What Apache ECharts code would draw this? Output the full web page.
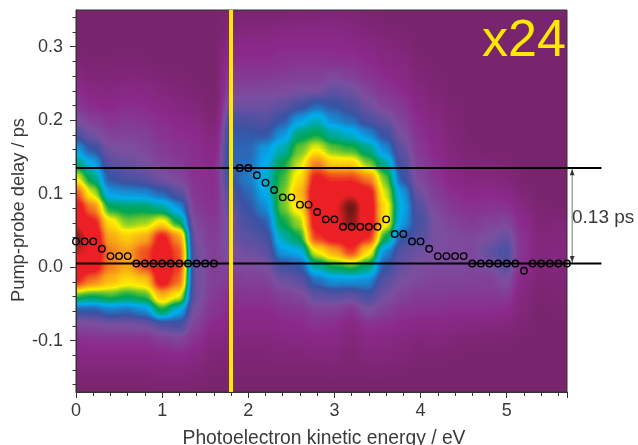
<!DOCTYPE html>
<html>
<head>
<meta charset="utf-8">
<style>
html,body{margin:0;padding:0;background:#fff;}
#chart{width:638px;height:445px;}
/* bottom layer only: the heatmap drawn as a grey value field, smoothed, then coloured by the level table */
#chart canvas:first-of-type{background:#000;filter:blur(4px) url(#levelMap);clip-path:inset(10px 71px 53px 76px);}
</style>
<script src="https://cdn.jsdelivr.net/npm/echarts@6/dist/echarts.min.js"></script>
</head>
<body>
<svg width="0" height="0" style="position:absolute"><defs><filter id="levelMap" color-interpolation-filters="sRGB" x="0" y="0" width="100%" height="100%"><feComponentTransfer id="levelTable"></feComponentTransfer></filter></defs></svg>
<div id="chart"></div>
<script>
// cell centres
const energyCells = [-0.2,0,0.2,0.4,0.6,0.8,1.0,1.2,1.4,1.6,1.8,2.0,2.2,2.4,2.6,2.8,3.0,3.2,3.4,3.6,3.8,4.0,4.2,4.4,4.6,4.8,5.0,5.2,5.4,5.6,5.8];
const delayCells = [0.36,0.34,0.32,0.30,0.28,0.26,0.24,0.22,0.20,0.18,0.16,0.14,0.12,0.10,0.08,0.06,0.04,0.02,0,-0.02,-0.04,-0.06,-0.08,-0.10,-0.12,-0.14,-0.16,-0.18];
// intensity per energy column, listed from top delay to bottom delay
const intensity = [
[0,0,0,0,2,6,10,14,20,27,38,48,60,76,85,90,96,92,88,80,52,30,18,11,8,4,1,0],
[0,0,0,0,2,6,10,14,20,27,38,48,60,76,85,90,96,92,88,80,52,30,18,11,8,4,1,0],
[0,0,0,0,1,3,7,10,16,21,30,40,48,58,72,82,88,90,84,72,50,30,19,12,8,4,1,0],
[0,0,0,0,1,3,6,9,13,17,21,25,30,38,50,62,68,72,72,66,52,34,20,12,8,4,1,0],
[0,0,0,0,2,4,8,11,14,17,20,23,27,37,49,55,64,69,68,62,50,33,20,12,8,4,1,0],
[0,0,0,0,1,4,7,10,13,16,18,21,25,36,49,56,67,76,76,64,52,36,21,12,8,4,1,0],
[0,0,0,0,0,2,5,8,11,13,15,17,21,32,46,62,82,86,88,84,66,50,26,15,9,5,2,0],
[0,0,0,0,0,1,3,6,9,11,13,15,18,26,38,50,70,76,78,74,60,40,28,17,10,5,2,0],
[0,0,0,0,0,0,1,4,7,10,11,11,12,13,15,18,20,22,22,22,22,20,16,12,8,4,1,0],
[0,0,0,0,0,0,0,0,2,5,8,10,11,11,12,14,15,16,16,16,15,13,10,6,3,1,0,0],
[0,1,4,8,11,14,17,22,28,31,32,32,30,27,24,22,22,20,18,15,12,10,8,5,3,1,0,0],
[0,2,6,9,11,14,18,22,27,31,32,33,35,32,30,28,25,22,19,16,13,10,8,5,3,1,0,0],
[0,2,6,9,11,14,18,22,26,30,38,40,42,40,36,31,27,24,20,16,13,10,8,5,3,1,0,0],
[0,2,7,10,12,15,19,24,30,37,44,50,52,54,54,50,44,38,28,22,16,12,9,6,4,1,0,0],
[0,3,8,10,13,16,20,28,38,48,54,58,62,66,62,56,50,40,30,24,18,13,10,7,4,1,0,0],
[0,3,8,10,13,16,20,32,43,50,60,72,82,86,86,84,78,60,45,33,24,16,12,8,5,1,0,0],
[0,4,8,10,12,18,24,30,36,45,54,64,78,88,90,90,84,68,50,37,25,16,11,8,5,2,0,0],
[0,3,6,9,12,16,22,27,33,42,52,64,78,90,98,96,86,78,52,37,24,13,7,4,2,1,0,0],
[0,1,4,7,10,13,17,22,27,36,47,55,72,84,86,86,80,62,48,36,28,20,12,8,5,2,0,0],
[0,0,2,5,7,10,13,17,23,29,36,46,54,58,62,62,50,36,30,25,21,16,11,7,5,2,0,0],
[0,0,1,3,6,8,10,14,17,20,24,27,30,38,40,38,30,25,23,20,17,13,9,6,4,1,0,0],
[0,0,0,0,1,3,5,7,10,12,14,16,18,22,26,28,26,22,20,18,15,12,8,4,2,0,0,0],
[0,0,0,0,0,1,2,4,6,8,9,11,13,15,18,20,20,20,19,17,15,12,8,5,2,0,0,0],
[0,0,0,0,0,0,0,1,2,3,4,6,8,11,14,17,19,19,19,17,14,11,7,3,1,0,0,0],
[0,0,0,0,0,0,0,0,0,0,1,3,6,9,12,15,18,18,18,17,14,11,6,2,0,0,0,0],
[0,0,0,0,0,0,0,0,0,0,0,3,5,10,13,17,20,24,20,16,14,11,5,2,0,0,0,0],
[0,0,0,0,0,0,0,0,0,0,0,2,4,8,13,18,24,28,25,20,15,10,5,1,0,0,0,0],
[0,0,0,0,0,0,0,0,0,0,0,0,0,3,7,10,12,13,11,8,6,4,2,0,0,0,0,0],
[0,0,0,0,0,0,0,0,0,0,0,0,0,0,1,3,5,5,4,2,1,0,0,0,0,0,0,0],
[0,0,0,0,0,0,0,0,0,0,0,0,0,0,0,4,5,6,5,3,2,1,0,0,0,0,0,0],
[0,0,0,0,0,0,0,0,0,0,0,0,0,0,0,2,3,3,3,2,1,0,0,0,0,0,0,0]
];
const colorLevels = ['#7a256e','#8c2a8c','#7b4fa0','#3953a4','#00aeef','#00a650','#fff200','#f7941d','#ed2024','#ed2024','#3a1510'];
// maximum-position markers
const markerEnergy = [0,0.1,0.2,0.3,0.4,0.5,0.6,0.7,0.8,0.9,1.0,1.1,1.2,1.3,1.4,1.5,1.6,
  1.9,2.0,2.1,2.2,2.3,2.4,2.5,2.6,2.7,2.8,2.9,3.0,3.1,3.2,3.3,3.4,3.5,3.6,3.7,3.8,3.9,4.0,4.1,4.2,4.3,4.4,4.5,4.6,4.7,4.8,4.9,5.0,5.1,5.2,5.3,5.4,5.5,5.6,5.7];
const markerDelay = [0.035,0.035,0.035,0.025,0.015,0.015,0.015,0.005,0.005,0.005,0.005,0.005,0.005,0.005,0.005,0.005,0.005,
  0.135,0.135,0.125,0.115,0.105,0.095,0.095,0.085,0.085,0.075,0.065,0.065,0.055,0.055,0.055,0.055,0.055,0.065,0.045,0.045,0.035,0.035,0.025,0.015,0.015,0.015,0.015,0.005,0.005,0.005,0.005,0.005,0.005,-0.005,0.005,0.005,0.005,0.005,0.005];
const upperDelay = 0.135, lowerDelay = 0.005, cutEnergy = 1.8, arrowEnergy = 5.76, lineEndEnergy = 6.1;
const xMajorTicks = 1;
const yLabelTicks = [-0.1,0,0.1,0.2,0.3];
const yMinorTicks = [-0.16,-0.14,-0.12,-0.08,-0.06,-0.04,-0.02,0.02,0.04,0.06,0.08,0.12,0.14,0.16,0.18,0.22,0.24,0.26,0.28,0.32,0.34];

// colour table applied to the smoothed value field
const channels = [[1,'R'],[3,'G'],[5,'B']];
const table = document.getElementById('levelTable');
channels.forEach(([start, name]) => {
  const fn = document.createElementNS('http://www.w3.org/2000/svg', 'feFunc' + name);
  fn.setAttribute('type', 'table');
  fn.setAttribute('tableValues', colorLevels.map(c => (parseInt(c.substr(start, 2), 16) / 255).toFixed(4)).join(' '));
  table.appendChild(fn);
});

const heatData = [];
intensity.forEach((col, i) => col.forEach((v, j) => heatData.push([i, j, v])));
const textColor = '#3a3a3a', fontFamily = '"Liberation Sans",Arial,sans-serif';
const yBase = {type:'value',gridIndex:1,min:-0.17,max:0.35,position:'left',zlevel:1,splitLine:{show:false},
  axisLine:{show:true,onZero:false,lineStyle:{color:'#333',width:1}}};

function segment(x1, y1, x2, y2, color, width, z) {
  return {type:'custom',xAxisIndex:1,yAxisIndex:1,zlevel:1,z,silent:true,
    data:[[x1,y1,x2,y2]],encode:{x:[0,2],y:[1,3]},
    renderItem:(params, api) => {
      const a = api.coord([api.value(0), api.value(1)]);
      const b = api.coord([api.value(2), api.value(3)]);
      return {type:'line',shape:{x1:a[0],y1:a[1],x2:b[0],y2:b[1]},style:{stroke:color,lineWidth:width,fill:null}};
    }};
}

const chart = echarts.init(document.getElementById('chart'), null, {renderer:'canvas'});
chart.setOption({
  animation:false,
  backgroundColor:'transparent',
  grid:[
    {left:50.2,top:-5.32,width:533.2,height:412.16,show:false,zlevel:0,outerBoundsMode:'none'},
    {left:76,top:10,right:71,bottom:53,show:true,backgroundColor:'transparent',borderColor:'#333',borderWidth:1,zlevel:1,outerBoundsMode:'none'}
  ],
  visualMap:{show:false,seriesIndex:0,min:0,max:100,inRange:{color:['#000000','#ffffff']}},
  xAxis:[
    {type:'category',gridIndex:0,data:energyCells,show:false,zlevel:0},
    {type:'value',gridIndex:1,min:0,max:5.7,interval:xMajorTicks,zlevel:1,
     splitLine:{show:false},
     axisLine:{show:true,onZero:false,lineStyle:{color:'#333',width:1}},
     axisTick:{show:true,length:6,lineStyle:{color:'#333'}},
     minorTick:{show:true,splitNumber:5,length:4,lineStyle:{color:'#333'}},
     axisLabel:{color:textColor,fontSize:18,fontFamily,margin:10,showMaxLabel:false},
     name:'Photoelectron kinetic energy / eV',nameLocation:'middle',nameGap:37,
     nameTextStyle:{color:textColor,fontSize:19.3,fontFamily,padding:[0,0,0,5]}}
  ],
  yAxis:[
    {type:'category',gridIndex:0,data:delayCells,inverse:true,show:false,zlevel:0},
    Object.assign({},yBase,{
     axisTick:{show:true,length:6,customValues:yLabelTicks,lineStyle:{color:'#333'}},
     axisLabel:{color:textColor,fontSize:18,fontFamily,margin:13,customValues:yLabelTicks,
       formatter:v=>v.toFixed(1)},
     name:'Pump-probe delay / ps',nameLocation:'middle',nameGap:48,nameMoveOverlap:false,
     nameTextStyle:{color:textColor,fontSize:18.3,fontFamily,padding:[0,18,0,0]}}),
    Object.assign({},yBase,{
     axisTick:{show:true,length:3.5,customValues:yMinorTicks,lineStyle:{color:'#333'}},
     axisLabel:{show:false}})
  ],
  series:[
    {type:'heatmap',xAxisIndex:0,yAxisIndex:0,data:heatData,zlevel:0,silent:true,progressive:0},
    segment(0,upperDelay,lineEndEnergy,upperDelay,'#000',2,3),
    segment(0,lowerDelay,lineEndEnergy,lowerDelay,'#000',2,3),
    segment(cutEnergy,-0.17,cutEnergy,0.35,'#ffe900',4,4),
    segment(arrowEnergy,upperDelay,arrowEnergy,lowerDelay,'#777',1,2),
    {type:'scatter',xAxisIndex:1,yAxisIndex:1,zlevel:1,z:3,clip:false,silent:true,
     symbol:'triangle',symbolSize:[5,6],itemStyle:{color:'#111'},
     data:[{value:[arrowEnergy,upperDelay-0.006],symbolRotate:0},
           {value:[arrowEnergy,lowerDelay+0.006],symbolRotate:180}]},
    {type:'scatter',xAxisIndex:1,yAxisIndex:1,zlevel:1,z:5,clip:false,silent:true,
     data:markerEnergy.map((e,i)=>[e,markerDelay[i]]),
     symbol:'circle',symbolSize:6.5,
     itemStyle:{color:'rgba(0,0,0,0)',borderColor:'#000',borderWidth:1.4,opacity:1}}
  ],
  graphic:[
    {type:'text',zlevel:2,left:482,top:16,style:{text:'x24',fill:'#ffe900',fontSize:52,fontFamily}},
    {type:'text',zlevel:2,left:572,top:208,style:{text:'0.13 ps',fill:textColor,fontSize:19,fontFamily}}
  ]
});
</script>
</body>
</html>
